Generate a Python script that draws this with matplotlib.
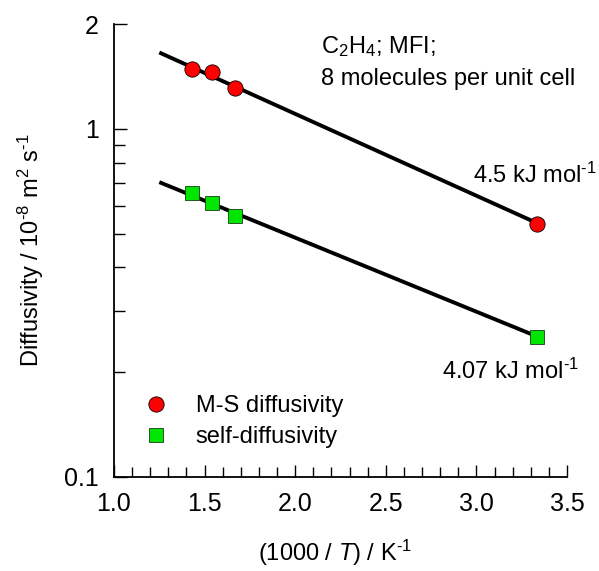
import numpy as np
import matplotlib
matplotlib.use("Agg")
import matplotlib.pyplot as plt
from matplotlib.ticker import FixedLocator, NullFormatter, MultipleLocator

plt.rcParams['font.family'] = ['Liberation Sans', 'DejaVu Sans']
plt.rcParams['mathtext.fontset'] = 'custom'
plt.rcParams['mathtext.rm'] = 'Liberation Sans'
plt.rcParams['mathtext.it'] = 'Liberation Sans:italic'

# Temperatures (K) and diffusivities (10^-8 m^2/s)
temperatures = [700, 650, 600, 300]
ms_diffusivity = [1.486, 1.455, 1.314, 0.532]
self_diffusivity = [0.656, 0.612, 0.562, 0.253]
activation_energy = [4.5, 4.07]  # kJ/mol
fit_temp_range = [800, 300]

y_ticks = [0.1, 1, 2]
y_tick_labels = ["0.1", "1", "2"]
x_ticks = [1.0, 1.5, 2.0, 2.5, 3.0, 3.5]

R = 8.314e-3  # kJ/mol/K

inv_t = 1000.0 / np.array(temperatures)


def arrhenius_line(D, Ea):
    slope = Ea / (R * 1000.0) / np.log(10)
    intercept = np.mean(np.log10(D) + slope * inv_t)
    xs = 1000.0 / np.array(fit_temp_range, dtype=float)
    return xs, 10 ** (intercept - slope * xs)


FS = 17
W, H = 599, 571

fig = plt.figure(figsize=(W / 100, H / 100), dpi=100)
ax = fig.add_axes([114 / W, 1 - 477 / H, (567 - 114) / W, (477 - 24) / H])

for D, Ea in zip([ms_diffusivity, self_diffusivity], activation_energy):
    xs, ys = arrhenius_line(D, Ea)
    ax.plot(xs, ys, color='black', lw=2.8, zorder=2, solid_capstyle='butt')

ax.plot(inv_t, ms_diffusivity, 'o', ms=11, mfc='#ff0000', mec='black', mew=0.6,
        zorder=3, label='M-S diffusivity')
ax.plot(inv_t, self_diffusivity, 's', ms=10, mfc='#00e600', mec='#1a3a1a', mew=0.6,
        zorder=3, label='self-diffusivity')

ax.set_yscale('log')
ax.set_xlim(1.0, 3.5)
ax.set_ylim(0.1, 2)

ax.yaxis.set_major_locator(FixedLocator(y_ticks))
ax.set_yticklabels(y_tick_labels)
ax.yaxis.set_minor_locator(FixedLocator([0.2, 0.3, 0.4, 0.5, 0.6, 0.7, 0.8, 0.9]))
ax.yaxis.set_minor_formatter(NullFormatter())
ax.xaxis.set_major_locator(FixedLocator(x_ticks))
ax.set_xticklabels([f"{v:.1f}" for v in x_ticks])
ax.xaxis.set_minor_locator(MultipleLocator(0.1))

for s in ['top', 'right']:
    ax.spines[s].set_visible(False)
for s in ['left', 'bottom']:
    ax.spines[s].set_linewidth(1.3)

ax.tick_params(which='both', direction='in', width=1.0, labelsize=18, colors='black')
ax.tick_params(which='major', length=9, pad=11)
ax.tick_params(which='minor', length=7)
ax.tick_params(axis='y', which='minor', length=8)

ax.set_ylabel(r'Diffusivity / 10$^{\text{-}8}$ m$^{2}$ s$^{\text{-}1}$', fontsize=FS)
ax.yaxis.set_label_coords(31 / W, 1 - 250.5 / H, transform=fig.transFigure)
ax.yaxis.label.set_va('center')
ax.yaxis.label.set_ha('center')
ax.set_xlabel(r'(1000 / $\it{T}$) / K$^{\text{-}1}$', fontsize=FS)
ax.xaxis.set_label_coords(335 / W, 1 - 553 / H, transform=fig.transFigure)
ax.xaxis.label.set_va('center')

ax.text(321 / W, 1 - 47 / H, r'C$_2$H$_4$; MFI;', transform=fig.transFigure,
        fontsize=FS, va='center', ha='left')
ax.text(321 / W, 1 - 79 / H, '8 molecules per unit cell', transform=fig.transFigure,
        fontsize=FS, va='center', ha='left')
ax.text(473 / W, 1 - 175 / H, r'4.5 kJ mol$^{\text{-}1}$', transform=fig.transFigure,
        fontsize=FS, va='center', ha='left')
ax.text(442 / W, 1 - 371 / H, r'4.07 kJ mol$^{\text{-}1}$', transform=fig.transFigure,
        fontsize=FS, va='center', ha='left')

ax.legend(loc='upper left', bbox_to_anchor=(139 / W, 1 - 395 / H),
          bbox_transform=fig.transFigure, frameon=False, fontsize=FS,
          handlelength=1.4, handletextpad=1.0, labelspacing=0.4,
          borderaxespad=0, borderpad=0)

fig.savefig('out.png', dpi=100)
